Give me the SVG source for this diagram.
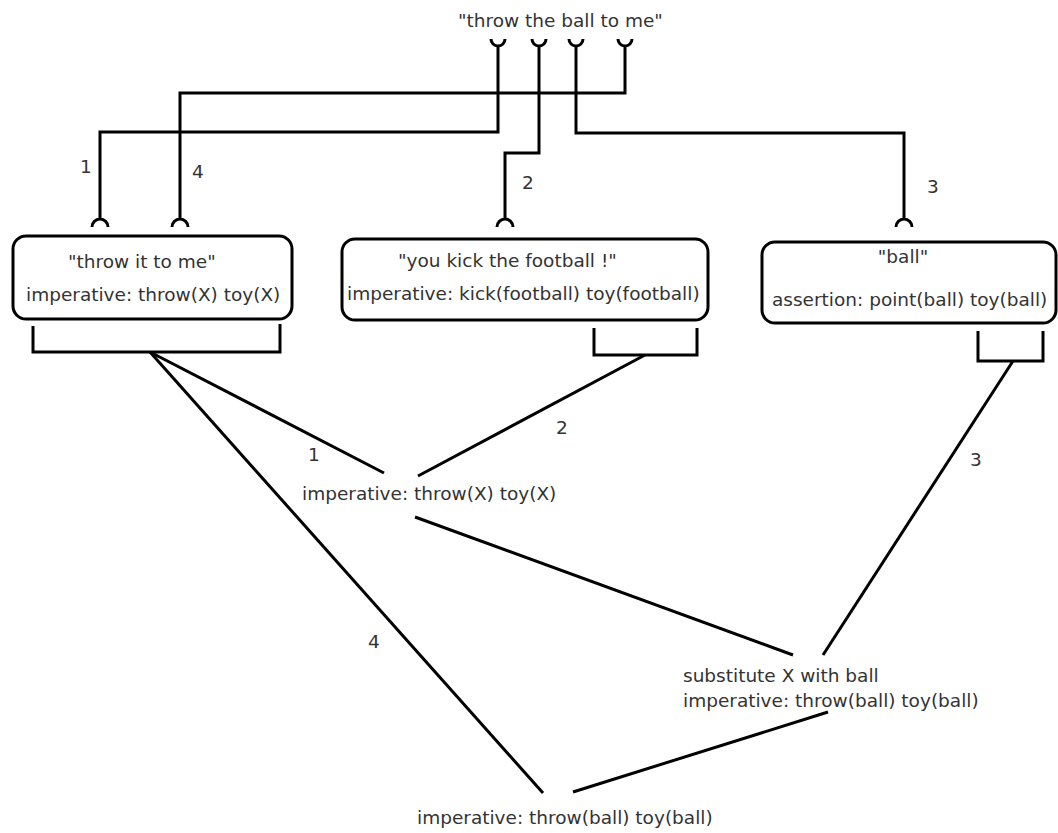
<svg xmlns="http://www.w3.org/2000/svg" width="1058" height="833" viewBox="0 0 1058 833">
<style>
text{font-family:"DejaVu Sans","Liberation Sans",sans-serif;font-size:18.5px;fill:#333}
.ln{fill:none;stroke:#000;stroke-width:3}
.box{fill:#fff;stroke:#000;stroke-width:3}
</style>
<rect width="1058" height="833" fill="#fff"/>
<g id="source">
<text x="458" y="27">"throw the ball to me"</text>
</g>
<g id="connectors" class="ln">
<path d="M491 39 A7 7 0 0 0 505 39 M498 46 V132 H100 V219 M92 227 A8 8 0 0 1 108 227"/>
<path d="M618 39 A7 7 0 0 0 632 39 M625 46 V93 H180 V219 M172 227 A8 8 0 0 1 188 227"/>
<path d="M532 39 A7 7 0 0 0 546 39 M539 46 V153 H505 V219 M497 227 A8 8 0 0 1 513 227"/>
<path d="M569 39 A7 7 0 0 0 583 39 M576 46 V133 H904 V219 M896 227 A8 8 0 0 1 912 227"/>
<path d="M33 326 V352 H280 V324"/>
<path d="M594 328 V355 H697 V328"/>
<path d="M978 331 V361 H1043 V331"/>
<path d="M150 352 L384 473"/>
<path d="M645 355 L418 476"/>
<path d="M415 517 L793 655"/>
<path d="M1013 361 L823 655"/>
<path d="M150 352 L543 793"/>
<path d="M828 712 L573 792"/>
</g>
<g id="labels">
<text x="80" y="173">1</text>
<text x="192" y="178">4</text>
<text x="522" y="189">2</text>
<text x="927" y="193">3</text>
<text x="308" y="461">1</text>
<text x="556" y="434">2</text>
<text x="970" y="466">3</text>
<text x="368" y="648">4</text>
</g>
<g id="node1">
<rect class="box" x="13" y="236" width="279" height="83" rx="13"/>
<text x="68" y="268">"throw it to me"</text>
<text x="26" y="301">imperative: throw(X) toy(X)</text>
</g>
<g id="node2">
<rect class="box" x="342" y="239" width="366" height="81" rx="13"/>
<text x="398" y="267">"you kick the football !"</text>
<text x="347" y="300">imperative: kick(football) toy(football)</text>
</g>
<g id="node3">
<rect class="box" x="762" y="242" width="294" height="81" rx="13"/>
<text x="903" y="263" text-anchor="middle">"ball"</text>
<text x="772" y="306">assertion: point(ball) toy(ball)</text>
</g>
<g id="generalize">
<text x="302" y="500">imperative: throw(X) toy(X)</text>
</g>
<g id="substitute">
<text x="683" y="682">substitute X with ball</text>
<text x="683" y="707">imperative: throw(ball) toy(ball)</text>
</g>
<g id="result">
<text x="417" y="824">imperative: throw(ball) toy(ball)</text>
</g>
</svg>
